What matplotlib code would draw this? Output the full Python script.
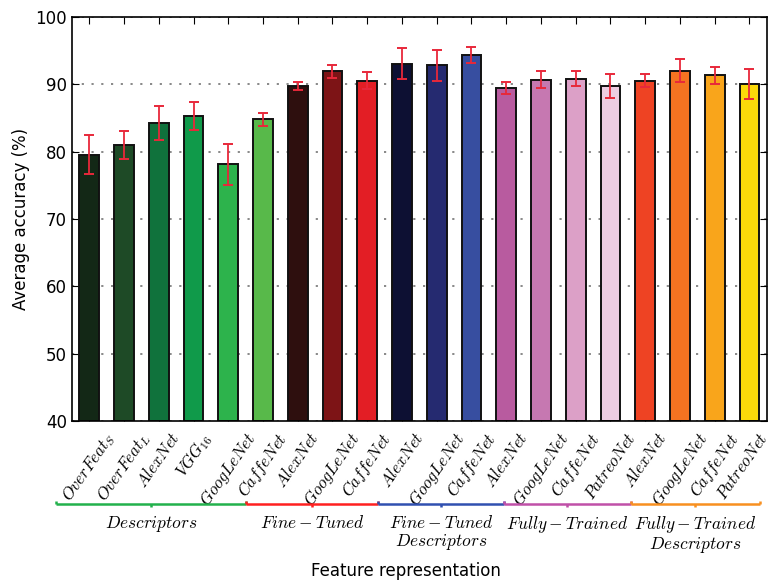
import matplotlib
matplotlib.use("Agg")
import matplotlib.pyplot as plt
from matplotlib.lines import Line2D
from matplotlib.transforms import ScaledTranslation

plt.rcParams["mathtext.fontset"] = "cm"
plt.rcParams["font.family"] = "DejaVu Sans"

# Model names under each bar (mathtext italic)
model_labels = [
    r"$OverFeat_S$", r"$OverFeat_L$", r"$AlexNet$", r"$VGG_{16}$", r"$GoogLeNet$", r"$CaffeNet$",
    r"$AlexNet$", r"$GoogLeNet$", r"$CaffeNet$",
    r"$AlexNet$", r"$GoogLeNet$", r"$CaffeNet$",
    r"$AlexNet$", r"$GoogLeNet$", r"$CaffeNet$", r"$PatreoNet$",
    r"$AlexNet$", r"$GoogLeNet$", r"$CaffeNet$", r"$PatreoNet$",
]
accuracy = [79.5, 81.0, 84.2, 85.3, 78.1, 84.8,
            89.75, 91.9, 90.55,
            93.05, 92.8, 94.4,
            89.5, 90.65, 90.85, 89.7,
            90.55, 92.0, 91.3, 90.0]
std_dev = [2.9, 2.1, 2.5, 2.1, 3.0, 1.0,
           0.55, 0.9, 1.2,
           2.3, 2.3, 1.2,
           0.9, 1.25, 1.1, 1.75,
           0.95, 1.7, 1.2, 2.2]
bar_colors = ["#132816", "#1e4a26", "#10723c", "#109a4a", "#2db34c", "#58b94a",
              "#2e0f0e", "#7d1416", "#e31e25",
              "#0d1033", "#252a70", "#374ea0",
              "#b85b9f", "#c678b1", "#dca0c7", "#edcde2",
              "#ee4323", "#f47321", "#f9a51b", "#fbd90a"]

group_names = [r"$Descriptors$", r"$Fine-Tuned$",
               r"$Fine-Tuned$" + "\n" + r"$Descriptors$",
               r"$Fully-Trained$",
               r"$Fully-Trained$" + "\n" + r"$Descriptors$"]
group_colors = ["#22b14c", "#ff2020", "#3050b0", "#c050a8", "#f89020"]

# bracket edges (x in data units) for the group annotations below the axis
bracket_edges = [-0.96, 4.5, 8.32, 11.93, 15.58, 19.3]

fig = plt.figure(figsize=(7.73, 5.83), dpi=100)
ax = fig.add_axes([0.093, 0.278, 0.899, 0.693])

x = list(range(len(accuracy)))
ax.bar(x, [a - 40 for a in accuracy], bottom=40, width=0.57, color=bar_colors,
       edgecolor="#111111", linewidth=1.4, zorder=2)
ax.errorbar(x, accuracy, yerr=std_dev, fmt="none", ecolor="#e8283a",
            elinewidth=1.3, capsize=3.4, capthick=1.4, zorder=3)

ax.set_xlim(-0.5, 19.5)
ax.set_ylim(40, 100)
ax.set_yticks(range(40, 101, 10))
ax.set_xticks(x)
ax.set_xticklabels(model_labels, rotation=55, fontsize=12)
ax.tick_params(axis="x", direction="in", top=True, bottom=True, length=5, pad=6)
ax.tick_params(axis="y", direction="in", left=True, right=True, length=5, labelsize=12)
ax.yaxis.grid(True, color="#7f7f7f", linestyle=(0, (1.2, 4.2)), linewidth=1.3, zorder=0)
ax.set_axisbelow(True)
for sp in ax.spines.values():
    sp.set_linewidth(1.2)

# nudge the right-most label so it stays inside the canvas
last = ax.get_xticklabels()[-1]
last.set_transform(last.get_transform() + ScaledTranslation(-5 / 72, 0, fig.dpi_scale_trans))

ax.set_ylabel("Average accuracy (%)", fontsize=12)
fig.text(0.525, 0.005, "Feature representation", fontsize=12, ha="center", va="bottom")

# group brackets
trans = ax.get_xaxis_transform()
y_line = -0.2054
tick_h = 0.008
for i, (name, col) in enumerate(zip(group_names, group_colors)):
    x0, x1 = bracket_edges[i], bracket_edges[i + 1]
    xm = (x0 + x1) / 2
    kw = dict(transform=trans, color=col, linewidth=1.8, clip_on=False,
              solid_capstyle="butt")
    ax.add_line(Line2D([x0, x1], [y_line, y_line], **kw))
    ax.add_line(Line2D([x0, x0], [y_line, y_line + tick_h], **kw))
    ax.add_line(Line2D([x1, x1], [y_line, y_line + tick_h], **kw))
    ax.add_line(Line2D([xm, xm], [y_line, y_line - tick_h], **kw))
    ax.text(xm, y_line - 0.024, name, transform=trans, ha="center", va="top",
            fontsize=12.5, linespacing=1.05)

fig.savefig("out.png", dpi=100)
